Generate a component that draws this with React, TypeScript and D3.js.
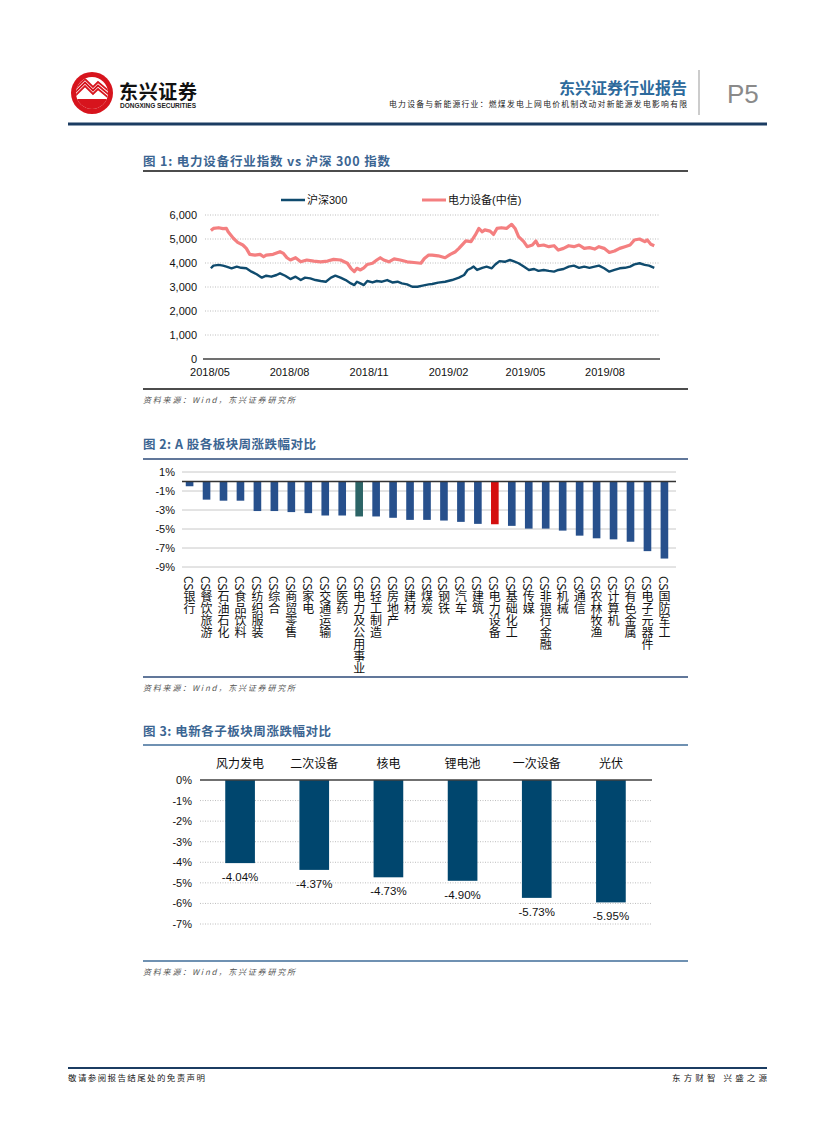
import React, { useEffect, useRef } from 'react';
import * as d3 from 'd3';

// ---- figure 1: index levels ----
const hs300: [string, number][] = [
  ['2018-05-02', 3780], ['2018-05-05', 3890], ['2018-05-11', 3920], ['2018-05-16', 3890],
  ['2018-05-20', 3850], ['2018-05-26', 3780], ['2018-06-01', 3850], ['2018-06-06', 3800],
  ['2018-06-12', 3780], ['2018-06-18', 3640], ['2018-06-24', 3530], ['2018-06-30', 3390],
  ['2018-07-05', 3470], ['2018-07-11', 3430], ['2018-07-17', 3500], ['2018-07-21', 3570],
  ['2018-07-27', 3470], ['2018-08-02', 3330], ['2018-08-08', 3430], ['2018-08-14', 3290],
  ['2018-08-19', 3390], ['2018-08-25', 3360], ['2018-08-31', 3290], ['2018-09-06', 3250],
  ['2018-09-12', 3220], ['2018-09-18', 3390], ['2018-09-23', 3470], ['2018-09-29', 3390],
  ['2018-10-05', 3290], ['2018-10-11', 3150], ['2018-10-15', 3080], ['2018-10-18', 3220],
  ['2018-10-22', 3150], ['2018-10-26', 3080], ['2018-10-30', 3250], ['2018-11-05', 3190],
  ['2018-11-10', 3250], ['2018-11-16', 3220], ['2018-11-22', 3290], ['2018-11-28', 3190],
  ['2018-12-04', 3220], ['2018-12-09', 3150], ['2018-12-15', 3110], ['2018-12-21', 3010],
  ['2018-12-27', 3010], ['2019-01-02', 3060], ['2019-01-09', 3110], ['2019-01-13', 3125],
  ['2019-01-20', 3180], ['2019-01-28', 3220], ['2019-02-05', 3290], ['2019-02-13', 3390],
  ['2019-02-19', 3500], ['2019-02-23', 3710], ['2019-02-27', 3780], ['2019-03-02', 3850],
  ['2019-03-06', 3710], ['2019-03-12', 3800], ['2019-03-17', 3850], ['2019-03-23', 3780],
  ['2019-03-27', 3940], ['2019-04-01', 4080], ['2019-04-07', 4050], ['2019-04-13', 4125],
  ['2019-04-17', 4080], ['2019-04-23', 3990], ['2019-04-29', 3850], ['2019-05-05', 3710],
  ['2019-05-11', 3750], ['2019-05-16', 3670], ['2019-05-22', 3710], ['2019-05-28', 3670],
  ['2019-06-03', 3640], ['2019-06-08', 3710], ['2019-06-14', 3750], ['2019-06-20', 3850],
  ['2019-06-26', 3890], ['2019-07-02', 3800], ['2019-07-08', 3850], ['2019-07-14', 3800],
  ['2019-07-20', 3850], ['2019-07-25', 3890], ['2019-07-31', 3780], ['2019-08-06', 3640],
  ['2019-08-12', 3710], ['2019-08-18', 3780], ['2019-08-24', 3800], ['2019-08-30', 3850],
  ['2019-09-04', 3940], ['2019-09-10', 3990], ['2019-09-16', 3920], ['2019-09-21', 3890],
  ['2019-09-27', 3800],
];

const powerEquip: [string, number][] = [
  ['2018-05-02', 5350], ['2018-05-05', 5440], ['2018-05-11', 5470], ['2018-05-16', 5430],
  ['2018-05-20', 5440], ['2018-05-22', 5300], ['2018-05-28', 5030], ['2018-06-02', 4860],
  ['2018-06-08', 4750], ['2018-06-12', 4610], ['2018-06-16', 4360], ['2018-06-22', 4330],
  ['2018-06-28', 4360], ['2018-07-02', 4260], ['2018-07-05', 4330], ['2018-07-13', 4360],
  ['2018-07-21', 4470], ['2018-07-25', 4400], ['2018-07-29', 4220], ['2018-08-02', 4125],
  ['2018-08-08', 4220], ['2018-08-14', 4050], ['2018-08-21', 4125], ['2018-08-29', 4080],
  ['2018-09-06', 4050], ['2018-09-14', 4080], ['2018-09-21', 4150], ['2018-09-29', 4125],
  ['2018-10-07', 3990], ['2018-10-11', 3780], ['2018-10-15', 3640], ['2018-10-18', 3780],
  ['2018-10-22', 3710], ['2018-10-26', 3800], ['2018-10-30', 3940], ['2018-11-05', 3990],
  ['2018-11-10', 4125], ['2018-11-14', 4220], ['2018-11-18', 4125], ['2018-11-24', 4050],
  ['2018-11-30', 4170], ['2018-12-07', 4125], ['2018-12-15', 4050], ['2018-12-23', 4020],
  ['2018-12-31', 3990], ['2019-01-04', 4190], ['2019-01-09', 4330], ['2019-01-13', 4330],
  ['2019-01-20', 4300], ['2019-01-28', 4220], ['2019-02-03', 4360], ['2019-02-09', 4470],
  ['2019-02-13', 4610], ['2019-02-21', 4920], ['2019-02-27', 4890], ['2019-03-04', 5170],
  ['2019-03-08', 5440], ['2019-03-12', 5300], ['2019-03-15', 5380], ['2019-03-21', 5330],
  ['2019-03-25', 5190], ['2019-03-29', 5440], ['2019-04-03', 5470], ['2019-04-09', 5440],
  ['2019-04-15', 5610], ['2019-04-19', 5440], ['2019-04-23', 5100], ['2019-04-29', 4890],
  ['2019-05-03', 4680], ['2019-05-09', 4750], ['2019-05-13', 4920], ['2019-05-16', 4720],
  ['2019-05-22', 4750], ['2019-05-28', 4680], ['2019-06-03', 4720], ['2019-06-08', 4540],
  ['2019-06-14', 4610], ['2019-06-20', 4720], ['2019-06-26', 4680], ['2019-07-02', 4750],
  ['2019-07-08', 4610], ['2019-07-14', 4640], ['2019-07-20', 4580], ['2019-07-25', 4680],
  ['2019-07-31', 4610], ['2019-08-06', 4440], ['2019-08-12', 4500], ['2019-08-18', 4610],
  ['2019-08-24', 4680], ['2019-08-30', 4750], ['2019-09-04', 4960], ['2019-09-10', 5000],
  ['2019-09-16', 4890], ['2019-09-19', 4960], ['2019-09-23', 4780], ['2019-09-27', 4720],
];

const lineXTicks = ['2018-05-01', '2018-08-01', '2018-11-01', '2019-02-01', '2019-05-01', '2019-08-01'];
const lineYTicks = [0, 1000, 2000, 3000, 4000, 5000, 6000];

// ---- figure 2: weekly change by sector (%) ----
const sectorNames = [
  '银行', '餐饮旅游', '石油石化', '食品饮料', '纺织服装', '综合', '商贸零售', '家电', '交通运输', '医药',
  '电力及公用事业', '轻工制造', '房地产', '建材', '煤炭', '钢铁', '汽车', '建筑', '电力设备', '基础化工',
  '传媒', '非银行金融', '机械', '通信', '农林牧渔', '计算机', '有色金属', '电子元器件', '国防军工',
];
const sectorChanges = [
  -0.5, -1.91, -2.02, -2.02, -3.11, -3.11, -3.22, -3.33, -3.58, -3.58,
  -3.68, -3.68, -3.82, -4.04, -4.04, -4.11, -4.25, -4.46, -4.5, -4.67,
  -4.96, -4.96, -5.17, -5.7, -5.98, -6.09, -6.34, -7.33, -8.11,
];
const sectorYTicks = [1, -1, -3, -5, -7, -9];

// ---- figure 3: sub-sectors (%) ----
const subNames = ['风力发电', '二次设备', '核电', '锂电池', '一次设备', '光伏'];
const subChanges = [-4.04, -4.37, -4.73, -4.9, -5.73, -5.95];
const subYTicks = [0, -1, -2, -3, -4, -5, -6, -7];

const SANS = '"Liberation Sans", Arial, "Noto Sans CJK SC", sans-serif';
const CJK = '"Noto Sans CJK SC", sans-serif';
const TITLE_BLUE = '#3b6592';

type Sel = d3.Selection<SVGSVGElement, unknown, null, undefined>;

function figureFrame(svg: Sel, title: string, titleWidth: number, titleY: number, ruleY: number,
  ruleColor: string, bottomY: number, bottomColor: string) {
  svg.append('text').attr('x', 143).attr('y', titleY)
    .attr('font-family', CJK).attr('font-size', 12.5).attr('font-weight', 'bold')
    .attr('fill', TITLE_BLUE).attr('textLength', titleWidth).text(title);
  svg.append('line').attr('x1', 143).attr('x2', 688).attr('y1', ruleY).attr('y2', ruleY)
    .attr('stroke', ruleColor).attr('stroke-width', 1.5);
  svg.append('line').attr('x1', 143).attr('x2', 688).attr('y1', bottomY).attr('y2', bottomY)
    .attr('stroke', bottomColor).attr('stroke-width', 1.5);
  svg.append('text').attr('x', 143).attr('y', bottomY + 14)
    .attr('font-family', CJK).attr('font-size', 8).attr('font-style', 'italic')
    .attr('fill', '#555').attr('textLength', 152).text('资料来源：Wind，东兴证券研究所');
}

const App: React.FC = () => {
  const svgRef = useRef<SVGSVGElement>(null);

  useEffect(() => {
    if (!svgRef.current) return;
    const svg = d3.select(svgRef.current);
    svg.selectAll('*').remove();

    // Header
    const logo = svg.append('g').attr('transform', 'translate(92,93)');
    svg.append('clipPath').attr('id', 'logoClip').append('circle').attr('cx', 92).attr('cy', 93).attr('r', 16);
    logo.append('circle').attr('r', 21).attr('fill', '#d7141d');
    logo.append('circle').attr('r', 16).attr('fill', '#fff');
    const inner = svg.append('g').attr('clip-path', 'url(#logoClip)').append('g').attr('transform', 'translate(92,93)');
    inner.append('rect').attr('x', -20).attr('y', 6).attr('width', 40).attr('height', 20).attr('fill', '#d7141d');
    [0, 3.5, 7].forEach(off => {
      inner.append('path')
        .attr('d', `M-18,${4 - off} L-7,${-7 - off} L1,${1 - off} L6,${-4 - off} L18,${6 - off}`)
        .attr('fill', 'none').attr('stroke', '#d7141d').attr('stroke-width', 1.8);
    });
    svg.append('text').attr('x', 119).attr('y', 99).attr('font-family', CJK).attr('font-size', 19)
      .attr('font-weight', 'bold').attr('fill', '#111').attr('textLength', 78).text('东兴证券');
    svg.append('text').attr('x', 120).attr('y', 108).attr('font-family', SANS).attr('font-size', 6.5)
      .attr('font-weight', 'bold').attr('fill', '#222').attr('textLength', 76).text('DONGXING SECURITIES');

    svg.append('text').attr('x', 687).attr('y', 94).attr('text-anchor', 'end').attr('font-family', CJK)
      .attr('font-size', 16).attr('font-weight', 'bold').attr('fill', '#2d6a9c').text('东兴证券行业报告');
    svg.append('text').attr('x', 687).attr('y', 107).attr('text-anchor', 'end').attr('font-family', CJK)
      .attr('font-size', 7.8).attr('fill', '#222').attr('textLength', 298)
      .text('电力设备与新能源行业：燃煤发电上网电价机制改动对新能源发电影响有限');
    svg.append('line').attr('x1', 699).attr('x2', 699).attr('y1', 70).attr('y2', 115)
      .attr('stroke', '#999').attr('stroke-width', 1);
    svg.append('text').attr('x', 727).attr('y', 103).attr('font-family', SANS).attr('font-size', 26)
      .attr('fill', '#8a8a8a').text('P5');
    svg.append('line').attr('x1', 68).attr('x2', 767).attr('y1', 124).attr('y2', 124)
      .attr('stroke', '#1b3c62').attr('stroke-width', 3);

    // Figure 1
    figureFrame(svg, '图 1: 电力设备行业指数 vs 沪深 300 指数', 247, 166, 171, '#111', 389, '#111');
    const parse = d3.timeParse('%Y-%m-%d');
    const x1 = d3.scaleTime()
      .domain([parse('2018-05-01') as Date, parse('2019-08-01') as Date])
      .range([210, 605]);
    const y1 = d3.scaleLinear().domain([0, 6000]).range([359, 215]);

    const g1 = svg.append('g');
    g1.selectAll('.grid').data(lineYTicks.filter(d => d > 0)).enter().append('line')
      .attr('x1', 205).attr('x2', 660).attr('y1', d => y1(d)).attr('y2', d => y1(d))
      .attr('stroke', '#bdbdbd').attr('stroke-width', 1).attr('stroke-dasharray', '1,1.5');
    g1.append('line').attr('x1', 203).attr('x2', 660).attr('y1', y1(0)).attr('y2', y1(0))
      .attr('stroke', '#404040').attr('stroke-width', 1.3);
    g1.selectAll('.ylab').data(lineYTicks).enter().append('text')
      .attr('x', 197).attr('y', d => y1(d) + 4).attr('text-anchor', 'end')
      .attr('font-family', SANS).attr('font-size', 11).attr('fill', '#111')
      .text(d => d3.format(',')(d));
    g1.selectAll('.xlab').data(lineXTicks).enter().append('text')
      .attr('x', d => x1(parse(d) as Date)).attr('y', 376).attr('text-anchor', 'middle')
      .attr('font-family', SANS).attr('font-size', 11).attr('fill', '#111')
      .text(d => d.slice(0, 7).replace('-', '/'));

    const line = d3.line<[string, number]>()
      .x(d => x1(parse(d[0]) as Date))
      .y(d => y1(d[1]));
    g1.append('path').datum(powerEquip).attr('fill', 'none').attr('stroke', '#f47f80')
      .attr('stroke-width', 3.2).attr('stroke-linejoin', 'round').attr('d', line);
    g1.append('path').datum(hs300).attr('fill', 'none').attr('stroke', '#0f4b6e')
      .attr('stroke-width', 2.4).attr('stroke-linejoin', 'round').attr('d', line);

    // legend
    g1.append('line').attr('x1', 281).attr('x2', 305).attr('y1', 200).attr('y2', 200)
      .attr('stroke', '#0f4b6e').attr('stroke-width', 2.5);
    g1.append('text').attr('x', 307).attr('y', 204).attr('font-family', SANS).attr('font-size', 11)
      .attr('fill', '#111').text('沪深300');
    g1.append('line').attr('x1', 422).attr('x2', 446).attr('y1', 200).attr('y2', 200)
      .attr('stroke', '#f47f80').attr('stroke-width', 3);
    g1.append('text').attr('x', 448).attr('y', 204).attr('font-family', SANS).attr('font-size', 11)
      .attr('fill', '#111').text('电力设备(中信)');

    // Figure 2
    figureFrame(svg, '图 2: A 股各板块周涨跌幅对比', 173, 449, 459, '#2c4a78', 677, '#2c4a78');
    const x2 = d3.scaleBand<string>().domain(sectorNames).range([180, 674])
      .paddingInner(0.55).paddingOuter(0.34);
    const y2 = d3.scaleLinear().domain([-9, 1]).range([567, 472]);
    const g2 = svg.append('g');
    g2.selectAll('.grid').data(sectorYTicks).enter().append('line')
      .attr('x1', 182).attr('x2', 676).attr('y1', d => y2(d)).attr('y2', d => y2(d))
      .attr('stroke', '#c8c8c8').attr('stroke-width', 1);
    g2.selectAll('.bar').data(sectorChanges).enter().append('rect')
      .attr('x', (_, i) => x2(sectorNames[i]) as number)
      .attr('width', x2.bandwidth())
      .attr('y', y2(0))
      .attr('height', d => y2(d) - y2(0))
      .attr('fill', (_, i) => sectorNames[i] === '电力设备' ? '#d40f0f'
        : sectorNames[i] === '电力及公用事业' ? '#2c6466' : '#27508c');
    g2.append('line').attr('x1', 182).attr('x2', 676).attr('y1', y2(0)).attr('y2', y2(0))
      .attr('stroke', '#333').attr('stroke-width', 1.3);
    g2.selectAll('.ylab').data(sectorYTicks).enter().append('text')
      .attr('x', 175).attr('y', d => y2(d) + 4).attr('text-anchor', 'end')
      .attr('font-family', SANS).attr('font-size', 11).attr('fill', '#111')
      .text(d => `${d}%`);
    g2.selectAll('.xlab').data(sectorNames).enter().append('text')
      .attr('x', d => (x2(d) as number) + x2.bandwidth() / 2)
      .attr('y', 576)
      .style('writing-mode', 'vertical-rl')
      .attr('font-family', CJK).attr('font-size', 12).attr('fill', '#111')
      .text(d => `CS${d}`);

    // Figure 3
    figureFrame(svg, '图 3: 电新各子板块周涨跌幅对比', 188, 736, 745, '#3f6c98', 961, '#3f6c98');
    const x3 = d3.scaleBand<string>().domain(subNames).range([203, 648])
      .paddingInner(0.6).paddingOuter(0.3);
    const y3 = d3.scaleLinear().domain([-7, 0]).range([924, 780]);
    const g3 = svg.append('g');
    g3.selectAll('.grid').data(subYTicks.filter(d => d < 0)).enter().append('line')
      .attr('x1', 200).attr('x2', 652).attr('y1', d => y3(d)).attr('y2', d => y3(d))
      .attr('stroke', '#bdbdbd').attr('stroke-width', 1).attr('stroke-dasharray', '1,1.5');
    g3.selectAll('.bar').data(subChanges).enter().append('rect')
      .attr('x', (_, i) => x3(subNames[i]) as number)
      .attr('width', x3.bandwidth())
      .attr('y', y3(0))
      .attr('height', d => y3(d) - y3(0))
      .attr('fill', '#00466e');
    g3.append('line').attr('x1', 200).attr('x2', 652).attr('y1', y3(0)).attr('y2', y3(0))
      .attr('stroke', '#404040').attr('stroke-width', 1.3);
    g3.selectAll('.ylab').data(subYTicks).enter().append('text')
      .attr('x', 192).attr('y', d => y3(d) + 4).attr('text-anchor', 'end')
      .attr('font-family', SANS).attr('font-size', 11).attr('fill', '#111')
      .text(d => `${d}%`);
    g3.selectAll('.cat').data(subNames).enter().append('text')
      .attr('x', d => (x3(d) as number) + x3.bandwidth() / 2).attr('y', 768)
      .attr('text-anchor', 'middle').attr('font-family', CJK).attr('font-size', 12).attr('fill', '#111')
      .text(d => d);
    g3.selectAll('.val').data(subChanges).enter().append('text')
      .attr('x', (_, i) => (x3(subNames[i]) as number) + x3.bandwidth() / 2)
      .attr('y', d => y3(d) + 18)
      .attr('text-anchor', 'middle').attr('font-family', SANS).attr('font-size', 11.5).attr('fill', '#111')
      .text(d => `${d.toFixed(2)}%`);

    // Footer
    svg.append('line').attr('x1', 68).attr('x2', 767).attr('y1', 1068).attr('y2', 1068)
      .attr('stroke', '#1b3c62').attr('stroke-width', 2);
    svg.append('text').attr('x', 68).attr('y', 1081).attr('font-family', CJK).attr('font-size', 8.5)
      .attr('fill', '#222').attr('textLength', 137).text('敬请参阅报告结尾处的免责声明');
    svg.append('text').attr('x', 767).attr('y', 1081).attr('text-anchor', 'end').attr('font-family', CJK)
      .attr('font-size', 8.5).attr('fill', '#222').attr('textLength', 95).text('东方财智 兴盛之源');
  }, []);

  return (
    <svg ref={svgRef} width={827} height={1122}
      style={{ position: 'absolute', left: 0, top: 0, background: '#fff' }} />
  );
};

export default App;
